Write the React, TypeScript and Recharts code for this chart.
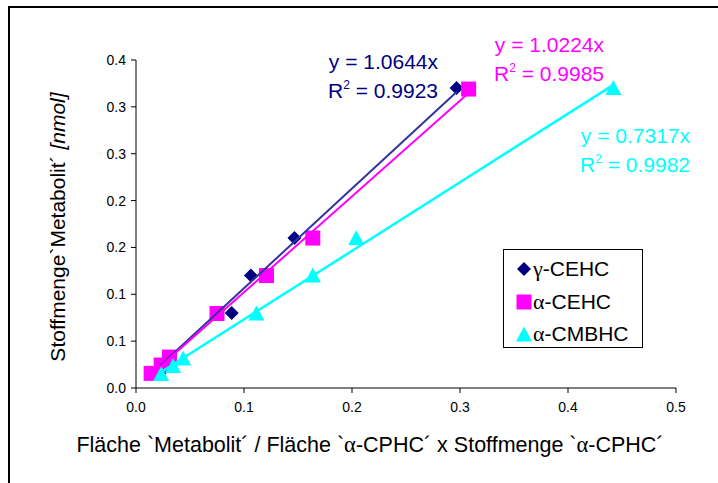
import { ScatterChart, Scatter, XAxis, YAxis, Legend } from 'recharts'

// y values (nmol) shared by all three metabolites
const gammaCehcX = [0.022, 0.027, 0.031, 0.0886, 0.1064, 0.1467, 0.2968]
const gammaCehcY = [0.016, 0.024, 0.032, 0.08, 0.12, 0.16, 0.32]
const alphaCehcX = [0.014, 0.0233, 0.031, 0.075, 0.1208, 0.1637, 0.308]
const alphaCehcY = [0.0156, 0.0245, 0.033, 0.0795, 0.12, 0.16, 0.319]
const alphaCmbhcX = [0.0233, 0.0343, 0.0437, 0.1115, 0.1637, 0.2039, 0.442]
const alphaCmbhcY = [0.015, 0.0234, 0.0316, 0.0795, 0.12, 0.16, 0.32]

const slopes = [1.0644, 1.0224, 0.7317]
const r2 = ['0.9923', '0.9985', '0.9982']
const seriesNames = ['γ-CEHC', 'α-CEHC', 'α-CMBHC']

const xTicks = [0, 0.1, 0.2, 0.3, 0.4, 0.5]
const xTickLabels = ['0.0', '0.1', '0.2', '0.3', '0.4', '0.5']
const yTicks = [0, 0.05, 0.1, 0.15, 0.2, 0.25, 0.3, 0.35]
const yTickLabels = ['0.0', '0.1', '0.1', '0.2', '0.2', '0.3', '0.3', '0.4']

const FONT = '"Liberation Sans", Arial, sans-serif'
const GREEK = '"Liberation Serif", "Times New Roman", serif'
const markerColors = ['#000080', '#FF00FF', '#00FFFF']
const lineColors = ['#333399', '#FF00FF', '#00FFFF']

const toPoints = (xs: number[], ys: number[]) => xs.map((x, i) => ({ x, y: ys[i] }))
const series = [
  toPoints(gammaCehcX, gammaCehcY),
  toPoints(alphaCehcX, alphaCehcY),
  toPoints(alphaCmbhcX, alphaCmbhcY),
]

// Excel style trendline through origin, from min x to max x
const trend = (xs: number[], k: number) => {
  const lo = Math.min(...xs)
  const hi = Math.max(...xs)
  return [
    { x: lo, y: k * lo },
    { x: hi, y: k * hi },
  ]
}
const trends = [
  trend(gammaCehcX, slopes[0]),
  trend(alphaCehcX, slopes[1]),
  trend(alphaCmbhcX, slopes[2]),
]

const Diamond = (p: any) => {
  const r = 7
  return (
    <polygon
      points={`${p.cx},${p.cy - r} ${p.cx + r},${p.cy} ${p.cx},${p.cy + r} ${p.cx - r},${p.cy}`}
      fill={markerColors[0]}
    />
  )
}
const Square = (p: any) => <rect x={p.cx - 7.5} y={p.cy - 7.5} width={15} height={15} fill={markerColors[1]} />
const Triangle = (p: any) => (
  <polygon points={`${p.cx},${p.cy - 8} ${p.cx + 8},${p.cy + 7} ${p.cx - 8},${p.cy + 7}`} fill={markerColors[2]} />
)
const shapes = [Diamond, Square, Triangle]

const Greek = ({ children }: { children: string }) => (
  <tspan fontFamily={GREEK} fontSize={22.5}>{children}</tspan>
)

const YLabel = () => (
  <text
    x={57}
    y={227}
    transform="rotate(-90, 57, 227)"
    textAnchor="middle"
    dominantBaseline="central"
    fontFamily={FONT}
    fontSize={21}
    fill="#000"
  >
    Stoffmenge`Metabolit´ <tspan fontStyle="italic">[nmol]</tspan>
  </text>
)

const XLabel = () => (
  <text x={370} y={452} textAnchor="middle" fontFamily={FONT} fontSize={21.5} fill="#000">
    Fläche `Metabolit´ / Fläche `<Greek>α</Greek>-CPHC´ x Stoffmenge `<Greek>α</Greek>-CPHC´
  </text>
)

function LegendBox() {
  const icons = [
    <svg width={16} height={16}><Diamond cx={8} cy={8} /></svg>,
    <svg width={16} height={16}><Square cx={8} cy={8} /></svg>,
    <svg width={16} height={16}><Triangle cx={8} cy={8.5} /></svg>,
  ]
  return (
    <div
      style={{
        width: 140,
        height: 99,
        border: '1px solid #000',
        background: '#fff',
        fontFamily: FONT,
        fontSize: 21,
        boxSizing: 'border-box',
        paddingTop: 3,
      }}
    >
      {seriesNames.map((name, i) => (
        <div key={name} style={{ display: 'flex', alignItems: 'center', height: 32.5, paddingLeft: 12 }}>
          {icons[i]}
          <span style={{ marginLeft: 1 }}>
            <span style={{ fontFamily: GREEK, fontSize: 22 }}>{name[0]}</span>
            {name.slice(1)}
          </span>
        </div>
      ))}
    </div>
  )
}

// equation boxes: right edge and vertical centre of first line
const eqPos = [
  { right: 438, top: 61 },
  { right: 604, top: 44 },
  { right: 690, top: 135 },
]

function Equation({ i }: { i: number }) {
  const { right, top } = eqPos[i]
  return (
    <div
      style={{
        position: 'absolute',
        right: 718 - right,
        top: top - 14.5,
        textAlign: 'right',
        color: markerColors[i],
        fontFamily: FONT,
        fontSize: 21,
        lineHeight: '29px',
        whiteSpace: 'nowrap',
      }}
    >
      <div>y = {slopes[i].toFixed(4)}x</div>
      <div>
        R<span style={{ fontSize: 12, position: 'relative', top: -9 }}>2</span> = {r2[i]}
      </div>
    </div>
  )
}

export default function App() {
  return (
    <div style={{ position: 'fixed', left: 0, top: 0, width: 718, height: 483, background: '#fff', overflow: 'hidden' }}>
      <div
        style={{
          position: 'absolute',
          left: 8,
          top: 6,
          width: 740,
          height: 500,
          borderLeft: '2px solid #000',
          borderTop: '2px solid #000',
        }}
      />
      <ScatterChart width={718} height={483} margin={{ top: 60, right: 42, left: 0, bottom: 0 }}>
        <XAxis
          type="number"
          dataKey="x"
          domain={[0, 0.5]}
          ticks={xTicks}
          tickFormatter={(v: number) => xTickLabels[xTicks.indexOf(v)]}
          height={95}
          stroke="#000"
          tickSize={5}
          tick={{ fill: '#000', fontSize: 14, fontFamily: FONT }}
          tickMargin={9}
          label={<XLabel />}
        />
        <YAxis
          type="number"
          dataKey="y"
          domain={[0, 0.35]}
          ticks={yTicks}
          tickFormatter={(v: number) => yTickLabels[yTicks.indexOf(v)]}
          width={136}
          stroke="#000"
          tickSize={5}
          tick={{ fill: '#000', fontSize: 14, fontFamily: FONT }}
          tickMargin={5}
          label={<YLabel />}
        />
        {series.map((d, i) => (
          <Scatter
            key={seriesNames[i]}
            name={seriesNames[i]}
            data={d}
            shape={shapes[i]}
            isAnimationActive={false}
          />
        ))}
        {trends.map((d, i) => (
          <Scatter
            key={'trend' + i}
            data={d}
            line={{ stroke: lineColors[i], strokeWidth: i === 2 ? 2.5 : 2 }}
            shape={() => null}
            legendType="none"
            isAnimationActive={false}
          />
        ))}
        <Legend
          layout="vertical"
          align="center"
          verticalAlign="middle"
          content={() => <LegendBox />}
          wrapperStyle={{ left: 503, top: 249, width: 140 }}
        />
      </ScatterChart>
      {slopes.map((_, i) => (
        <Equation key={i} i={i} />
      ))}
    </div>
  )
}
